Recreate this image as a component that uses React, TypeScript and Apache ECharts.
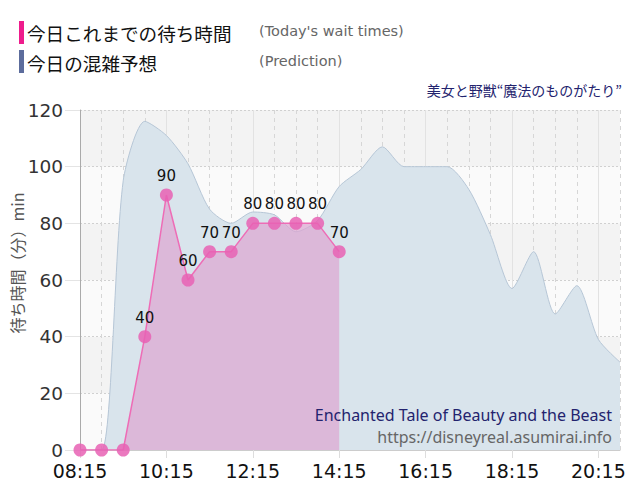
import { useEffect, useRef } from 'react'
import * as echarts from 'echarts'

// 30分刻みの時刻
const times = [
  '08:15', '08:45', '09:15', '09:45', '10:15', '10:45', '11:15', '11:45', '12:15',
  '12:45', '13:15', '13:45', '14:15', '14:45', '15:15', '15:45', '16:15', '16:45',
  '17:15', '17:45', '18:15', '18:45', '19:15', '19:45', '20:15', '20:45'
]

// 今日これまでの待ち時間
const waitTimes = [0, 0, 0, 40, 90, 60, 70, 70, 80, 80, 80, 80, 70]

// 今日の混雑予想
const prediction = [
  0, 0, 95, 116, 111, 101, 85, 80, 84, 83, 77, 81, 93,
  99, 107, 100, 100, 100, 92, 76, 57, 70, 48, 58, 39, 31
]

const yTicks = [0, 20, 40, 60, 80, 100, 120]

const NUM_FONT = '"DejaVu Sans", Verdana, sans-serif'
const JP_FONT = '"Noto Sans CJK JP", sans-serif'

export default function App() {
  const chartRef = useRef<HTMLDivElement>(null)

  useEffect(() => {
    if (!chartRef.current) return
    document.body.style.margin = '0'
    const chart = echarts.init(chartRef.current, null, { renderer: 'svg' })

    const option: echarts.EChartsOption = {
      animation: false,
      backgroundColor: '#fff',
      grid: { left: 80, right: 20, top: 110, bottom: 50 },
      graphic: [
        { type: 'rect', shape: { x: 19, y: 21, width: 5, height: 23 }, style: { fill: '#ee1c8c' } },
        { type: 'rect', shape: { x: 19, y: 50, width: 5, height: 23 }, style: { fill: '#5c6c9c' } },
        {
          type: 'text', x: 27, y: 32,
          style: { text: '今日これまでの待ち時間', font: `18.6px ${JP_FONT}`, fill: '#111', verticalAlign: 'middle' }
        },
        {
          type: 'text', x: 259, y: 31,
          style: { text: "(Today's wait times)", font: `14.5px ${NUM_FONT}`, fill: '#666', verticalAlign: 'middle' }
        },
        {
          type: 'text', x: 27, y: 62,
          style: { text: '今日の混雑予想', font: `18.6px ${JP_FONT}`, fill: '#111', verticalAlign: 'middle' }
        },
        {
          type: 'text', x: 259, y: 61,
          style: { text: '(Prediction)', font: `14.5px ${NUM_FONT}`, fill: '#666', verticalAlign: 'middle' }
        },
        {
          type: 'text', x: 622, y: 90,
          style: { text: '美女と野獣“魔法のものがたり”', font: `14px ${JP_FONT}`, fill: '#23236e', align: 'right', verticalAlign: 'middle' }
        },
        {
          type: 'text', x: 17, y: 263, rotation: Math.PI / 2,
          style: { text: '待ち時間（分）min', font: `16px ${JP_FONT}`, fill: '#555', align: 'center', verticalAlign: 'middle' }
        },
        {
          type: 'text', x: 612, y: 415, z: 100,
          style: { text: 'Enchanted Tale of Beauty and the Beast', font: '16px "Noto Sans", sans-serif', fill: '#23236e', align: 'right', verticalAlign: 'middle' }
        },
        {
          type: 'text', x: 612, y: 437, z: 100,
          style: { text: 'https://disneyreal.asumirai.info', font: '16px "Noto Sans", sans-serif', fill: '#666', align: 'right', verticalAlign: 'middle' }
        }
      ],
      xAxis: [
        {
          type: 'category',
          data: times,
          boundaryGap: false,
          axisLine: { lineStyle: { color: '#ccc' } },
          axisTick: { interval: 3, length: 8, lineStyle: { color: '#ddd' } },
          axisLabel: { interval: 3, margin: 11, fontSize: 19, color: '#111', fontFamily: NUM_FONT },
          splitLine: { show: true, interval: 0, lineStyle: { color: '#d6d6d6', type: [4, 4] } }
        },
        {
          type: 'category',
          data: times,
          boundaryGap: false,
          position: 'bottom',
          axisLine: { show: false },
          axisTick: { show: false },
          axisLabel: { show: false },
          splitLine: { show: true, interval: 3, lineStyle: { color: '#e2e2e2' } }
        }
      ],
      yAxis: {
        type: 'value',
        min: yTicks[0],
        max: yTicks[yTicks.length - 1],
        interval: 20,
        axisLine: { show: true, lineStyle: { color: '#aaa' } },
        axisTick: { show: true, length: 15, lineStyle: { color: '#e4e4e4' } },
        axisLabel: { margin: 17, fontSize: 18.5, color: '#333', fontFamily: NUM_FONT },
        splitLine: { lineStyle: { color: '#d0d0d0', type: [2, 2] } },
        splitArea: { show: true, areaStyle: { color: ['#fafafa', '#f3f3f3'] } }
      },
      series: [
        {
          name: '今日の混雑予想',
          type: 'line',
          data: prediction,
          smooth: 0.25,
          symbol: 'none',
          lineStyle: { color: '#b6c6d6', width: 1 },
          areaStyle: { color: '#d9e4ec', opacity: 1 },
          z: 2
        },
        {
          name: '今日これまでの待ち時間',
          type: 'line',
          data: waitTimes,
          symbol: 'circle',
          symbolSize: 13,
          itemStyle: { color: 'rgba(232,98,180,0.85)' },
          lineStyle: { color: '#ee6cb6', width: 1.5 },
          areaStyle: { color: 'rgb(221,165,210)', opacity: 0.7 },
          label: {
            show: true,
            position: 'top',
            distance: 5,
            fontSize: 15,
            color: '#111',
            fontFamily: NUM_FONT,
            formatter: (p: any) => (p.value > 0 ? String(p.value) : '')
          },
          z: 3
        }
      ]
    }

    chart.setOption(option)
    return () => chart.dispose()
  }, [])

  return <div ref={chartRef} style={{ width: 640, height: 500 }} />
}
